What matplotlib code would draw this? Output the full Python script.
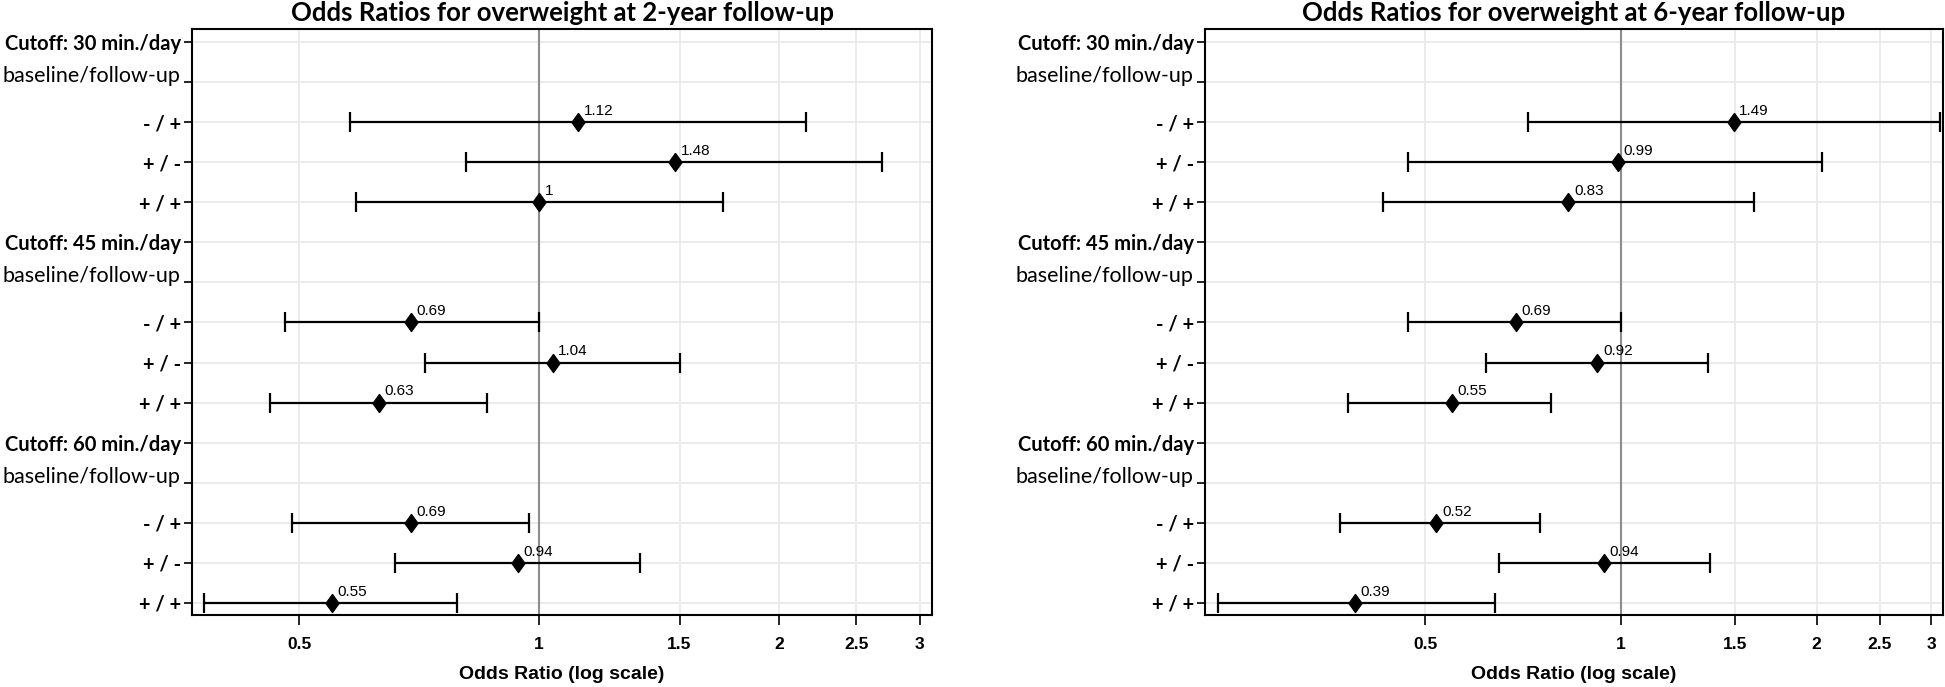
import numpy as np
import matplotlib
matplotlib.use("Agg")
import matplotlib.pyplot as plt
from matplotlib.ticker import FixedLocator, NullLocator
from matplotlib.transforms import ScaledTranslation

# row labels (top to bottom)
row_labels = ["Cutoff: 30 min./day", "baseline/follow-up", "- / +", "+ / -", "+ / +",
              "Cutoff: 45 min./day", "baseline/follow-up", "- / +", "+ / -", "+ / +",
              "Cutoff: 60 min./day", "baseline/follow-up", "- / +", "+ / -", "+ / +"]
data_rows = [2, 3, 4, 7, 8, 9, 12, 13, 14]

# 2-year follow-up
or_2y = [1.12, 1.48, 1.00, 0.69, 1.04, 0.63, 0.69, 0.94, 0.55]
lo_2y = [0.58, 0.81, 0.59, 0.48, 0.72, 0.46, 0.49, 0.66, 0.38]
hi_2y = [2.16, 2.69, 1.70, 1.00, 1.50, 0.86, 0.97, 1.34, 0.79]

# 6-year follow-up
or_6y = [1.49, 0.99, 0.83, 0.69, 0.92, 0.55, 0.52, 0.94, 0.39]
lo_6y = [0.72, 0.47, 0.43, 0.47, 0.62, 0.38, 0.37, 0.65, 0.24]
hi_6y = [3.10, 2.04, 1.60, 1.00, 1.36, 0.78, 0.75, 1.37, 0.64]

xticks = [0.5, 1, 1.5, 2, 2.5, 3]
xtick_labels = ["0.5", "1", "1.5", "2", "2.5", "3"]

NARROW = ["Liberation Sans Narrow", "Liberation Sans", "DejaVu Sans"]
CALI = ["Lato", "DejaVu Sans"]
diamond = [(0, 1), (0.72, 0), (0, -1), (-0.72, 0), (0, 1)]

fig = plt.figure(figsize=(19.45, 6.87), dpi=100)
ax1 = fig.add_axes([0.0987, 0.105, 0.3805, 0.853])
ax2 = fig.add_axes([0.6195, 0.105, 0.3795, 0.853])


def draw_panel(ax, odds, lo, hi, xlim, title):
    ax.set_xscale("log")
    ax.set_xlim(*xlim)
    ax.set_ylim(14.3, -0.33)
    ax.xaxis.set_major_locator(FixedLocator(xticks))
    ax.xaxis.set_minor_locator(NullLocator())
    ax.set_xticklabels(xtick_labels, fontfamily=NARROW, fontweight="bold", fontsize=12.5)
    ax.set_yticks(range(len(row_labels)))
    ax.set_yticklabels(row_labels, fontfamily=CALI, fontsize=14.5)
    for lab in ax.get_yticklabels():
        if lab.get_text().startswith("baseline"):
            lab.set_fontweight("normal")
            lab.set_fontsize(15.5)
            lab.set_verticalalignment("baseline")
            lab.set_transform(lab.get_transform() +
                              ScaledTranslation(0, 1 / 72, fig.dpi_scale_trans))
        else:
            lab.set_fontweight("bold")
    ax.grid(True, color="#e9e9e9", lw=1.3, zorder=0)
    ax.set_axisbelow(True)
    ax.tick_params(axis="x", length=7, width=1.2, pad=9)
    ax.tick_params(axis="y", length=6, width=1.2, pad=2)
    for s in ax.spines.values():
        s.set_linewidth(1.5)
    ax.axvline(1, color="#8c8c8c", lw=1.5, zorder=1)

    odds = np.array(odds)
    err = [odds - np.array(lo), np.array(hi) - odds]
    ax.errorbar(odds, data_rows, xerr=err, fmt="none", ecolor="black",
                elinewidth=1.6, capsize=7, capthick=1.6, zorder=3)
    ax.plot(odds, data_rows, marker=diamond, ls="none", color="black",
            markersize=13, zorder=4)
    for v, y in zip(odds, data_rows):
        ax.annotate(f"{v:g}", (v, y), xytext=(4, 3), textcoords="offset points",
                    ha="left", va="bottom", fontsize=11,
                    fontfamily=["Liberation Sans", "DejaVu Sans"], zorder=5)

    ax.set_xlabel("Odds Ratio (log scale)", fontfamily=NARROW, fontweight="bold",
                  fontsize=14, labelpad=10)
    ax.set_title(title, fontfamily=CALI, fontweight="bold", fontsize=18.5, pad=6)


draw_panel(ax1, or_2y, lo_2y, hi_2y, (0.367, 3.11),
           "Odds Ratios for overweight at 2-year follow-up")
draw_panel(ax2, or_6y, lo_6y, hi_6y, (0.229, 3.13),
           "Odds Ratios for overweight at 6-year follow-up")

fig.savefig("out.png", dpi=100)
